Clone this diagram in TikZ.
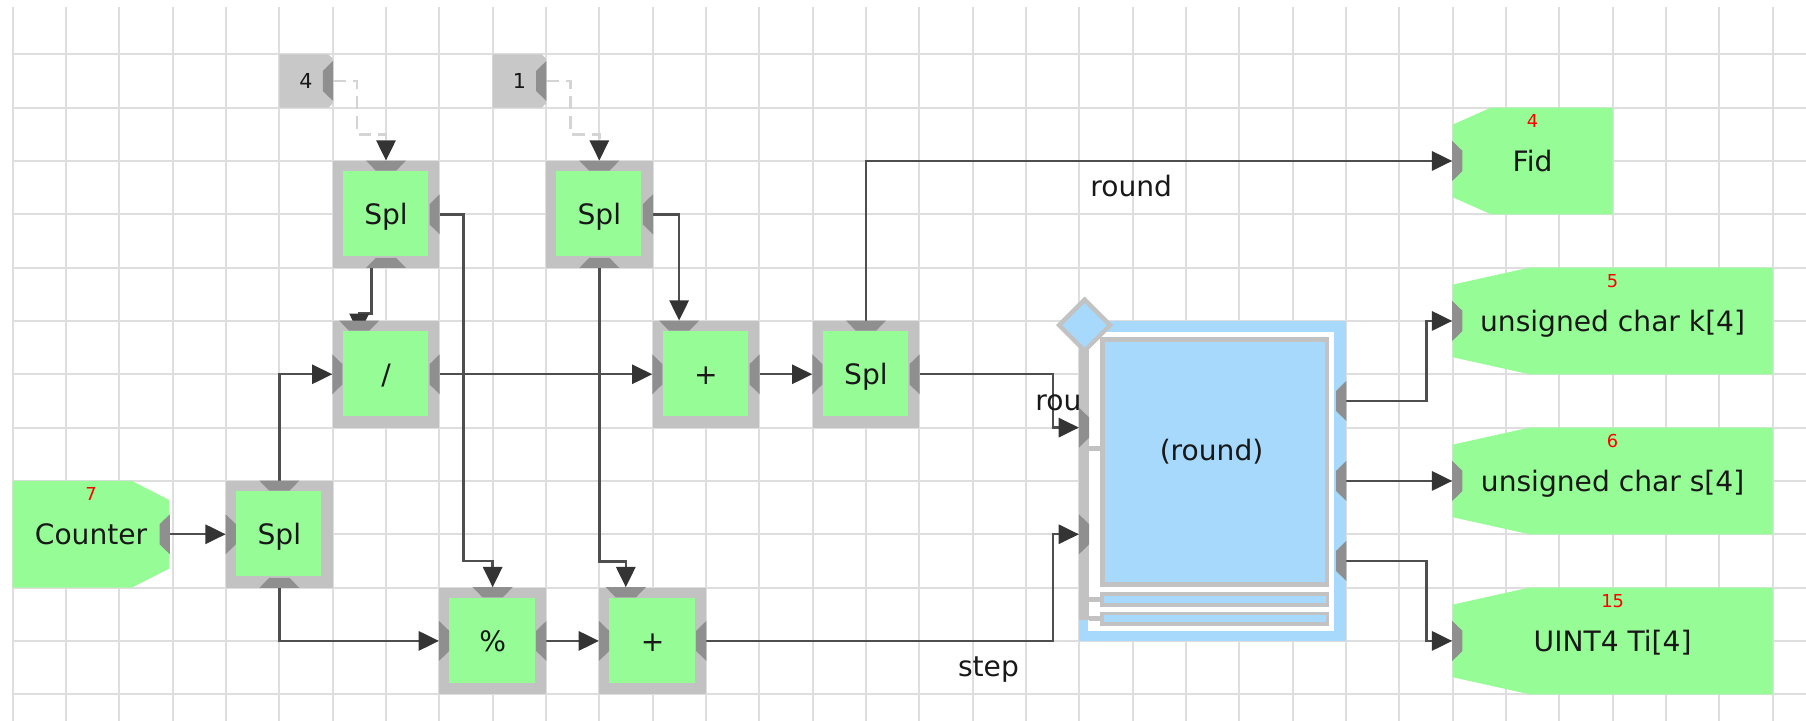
\documentclass[tikz,border=0pt]{standalone}
\usepackage{fontspec}
\setmainfont{DejaVu Sans}
\usetikzlibrary{arrows.meta,calc}
\pgfdeclarelayer{bg}
\pgfsetlayers{bg,main}
\definecolor{blkgreen}{RGB}{150,252,150}
\definecolor{framegrey}{RGB}{194,194,194}
\definecolor{cstgrey}{RGB}{200,200,200}
\definecolor{portgrey}{RGB}{143,143,143}
\definecolor{rndblue}{RGB}{166,217,251}
\definecolor{gridc}{RGB}{222,222,222}
\definecolor{wirec}{RGB}{78,78,78}
\definecolor{tipc}{RGB}{52,52,52}
\definecolor{cwirec}{RGB}{212,212,212}
\definecolor{txtc}{RGB}{24,24,24}
\newcommand{\blkfont}{\fontsize{15pt}{18pt}\selectfont}
\newcommand{\idnfont}{\fontsize{9.5pt}{11pt}\selectfont}
\newcommand{\cstfnt}{\fontsize{11pt}{13pt}\selectfont}
\newcommand{\portmark}[2]{\fill[portgrey,shift={(#1)},rotate=#2] (0,-0.375) -- (0.19,-0.19) -- (0.19,0.19) -- (0,0.375) -- cycle;}

\begin{document}
\begin{tikzpicture}[x=1cm,y=-1cm]
\tikzstyle{blk} = [rectangle, minimum width=2cm, minimum height=2cm, inner sep=0pt, fill=framegrey, font=\blkfont, text=txtc, text height=10.9pt, text depth=0pt,
  path picture={\fill[blkgreen] ([xshift=0.19cm,yshift=-0.19cm]path picture bounding box.north west) rectangle ([xshift=-0.21cm,yshift=0.21cm]path picture bounding box.south east);}]
\tikzstyle{cst} = [rectangle, minimum width=1cm, minimum height=1cm, inner sep=0pt, font=\cstfnt, text=txtc,
  path picture={\fill[cstgrey] (path picture bounding box.north west) -- ([xshift=-0.08cm]path picture bounding box.north east) -- ([yshift=-0.08cm]path picture bounding box.north east) -- ([yshift=0.08cm]path picture bounding box.south east) -- ([xshift=-0.08cm]path picture bounding box.south east) -- (path picture bounding box.south west) -- cycle;}]
\tikzstyle{innode} = [rectangle, minimum width=2.94cm, minimum height=2cm, inner sep=0pt, font=\blkfont, text=txtc, text height=10.9pt, text depth=0pt,
  path picture={\fill[blkgreen] (path picture bounding box.north west) -- ($(path picture bounding box.north east)!0.24!(path picture bounding box.north west)$) -- ([yshift=-0.36cm]path picture bounding box.north east) -- ([yshift=0.36cm]path picture bounding box.south east) -- ($(path picture bounding box.south east)!0.24!(path picture bounding box.south west)$) -- (path picture bounding box.south west) -- cycle;}]
\tikzstyle{outnode} = [rectangle, minimum height=2cm, inner sep=0pt, font=\blkfont, text=txtc, text height=10.9pt, text depth=0pt,
  path picture={\fill[blkgreen] ($(path picture bounding box.north west)!0.24!(path picture bounding box.north east)$) -- (path picture bounding box.north east) -- (path picture bounding box.south east) -- ($(path picture bounding box.south west)!0.24!(path picture bounding box.south east)$) -- ([yshift=0.32cm]path picture bounding box.south west) -- ([yshift=-0.32cm]path picture bounding box.north west) -- cycle;}]
\tikzstyle{idnum} = [inner sep=0pt, font=\idnfont, text=red, text height=6.9pt, text depth=0pt]
\tikzstyle{rndbox} = [rectangle, minimum width=5cm, minimum height=6cm, inner sep=0pt, fill=rndblue]
\tikzstyle{wlbl} = [inner sep=0pt, font=\blkfont, text=txtc, anchor=base west]
\tikzstyle{wire} = [draw=wirec, line width=1.3pt, -{Triangle[length=0.38cm,width=0.36cm,color=tipc]}]
\tikzstyle{cwire} = [draw=cwirec, line width=1.3pt, dash pattern=on 0.24cm off 0.13cm, -{Triangle[length=0.38cm,width=0.36cm,color=tipc]}]

\useasboundingbox (-0.238,-1.018) rectangle (33.627,12.501);

\node (c4) [cst] at (5.5,0.5) {4};
\node (c1) [cst] at (9.5,0.5) {1};
\node (spl1) [blk] at (7,3) {Spl};
\node (spl2) [blk] at (11,3) {Spl};
\node (div) [blk] at (7,6) {/};
\node (add1) [blk] at (13,6) {+};
\node (spl3) [blk] at (16,6) {Spl};
\node (cnt) [innode] at (1.47,9) {Counter};
\node (spl4) [blk] at (5,9) {Spl};
\node (mod) [blk] at (9,11) {\%};
\node (add2) [blk] at (12,11) {+};

\node (fid) [outnode, minimum width=3cm] at (28.5,2) {Fid};
\node (kk) [outnode, minimum width=6cm] at (30,5) {unsigned char k[4]};
\node (ss) [outnode, minimum width=6cm] at (30,8) {unsigned char s[4]};
\node (ti) [outnode, minimum width=6cm] at (30,11) {UINT4 Ti[4]};
\node (cntid) [idnum] at ([yshift=-0.26cm]cnt.north) {7};
\node (fidid) [idnum] at ([yshift=-0.26cm]fid.north) {4};
\node (kkid) [idnum] at ([yshift=-0.26cm]kk.north) {5};
\node (ssid) [idnum] at ([yshift=-0.26cm]ss.north) {6};
\node (tiid) [idnum] at ([yshift=-0.26cm]ti.north) {15};

\coordinate (divt) at ($(div.north west)!0.25!(div.north east)$);
\coordinate (add1t) at ($(add1.north west)!0.25!(add1.north east)$);
\coordinate (add2t) at ($(add2.north west)!0.25!(add2.north east)$);

\portmark{c4.east}{180}
\portmark{c1.east}{180}
\portmark{spl1.north}{-90}
\portmark{spl1.south}{90}
\portmark{spl1.east}{180}
\portmark{spl2.north}{-90}
\portmark{spl2.south}{90}
\portmark{spl2.east}{180}
\portmark{divt}{-90}
\portmark{div.west}{0}
\portmark{div.east}{180}
\portmark{add1t}{-90}
\portmark{add1.west}{0}
\portmark{add1.east}{180}
\portmark{spl3.north}{-90}
\portmark{spl3.west}{0}
\portmark{spl3.east}{180}
\portmark{cnt.east}{180}
\portmark{spl4.north}{-90}
\portmark{spl4.south}{90}
\portmark{spl4.west}{0}
\portmark{mod.north}{-90}
\portmark{mod.west}{0}
\portmark{mod.east}{180}
\portmark{add2t}{-90}
\portmark{add2.west}{0}
\portmark{add2.east}{180}
\portmark{fid.west}{0}
\portmark{kk.west}{0}
\portmark{ss.west}{0}
\portmark{ti.west}{0}

\node (rnd) [rndbox] at (22.5,8) {};
\fill[white] (20.17,5.2) rectangle (24.78,10.81);
\fill[framegrey] (20,5.54) rectangle (20.18,10.61);
\draw[framegrey, line width=0.09cm] (20.18,7.39) -- (20.44,7.39);
\draw[framegrey, line width=0.09cm] (20.18,10.23) -- (20.44,10.23);
\draw[framegrey, line width=0.09cm] (20.18,10.58) -- (20.44,10.58);
\draw[framegrey, fill=rndblue, line width=0.09cm] (20.435,5.345) rectangle (24.645,9.945);
\draw[framegrey, fill=rndblue, line width=0.07cm] (20.425,10.125) rectangle (24.655,10.325);
\draw[framegrey, fill=rndblue, line width=0.07cm] (20.425,10.485) rectangle (24.655,10.685);
\draw[framegrey, fill=rndblue, line width=0.08cm] (20.1,4.6) -- (20.58,5.08) -- (20.1,5.56) -- (19.62,5.08) -- cycle;
\node (rndlbl) [font=\blkfont, text=txtc] at (22.48,7.45) {(round)};
\portmark{[yshift=1cm]rnd.west}{0}
\portmark{[yshift=-1cm]rnd.west}{0}
\portmark{[yshift=1.5cm]rnd.east}{180}
\portmark{rnd.east}{180}
\portmark{[yshift=-1.5cm]rnd.east}{180}

\begin{pgfonlayer}{bg}
\fill[white] (-0.238,-1.018) rectangle (33.627,12.501);
\draw[gridc, line width=1pt] (0,-0.89) grid (33.627,12.501);

\draw[cwire] (c4.east) -- ++(0.45,0) -- ++(0,1) -| (spl1.north);
\draw[cwire] (c1.east) -- ++(0.45,0) -- ++(0,1) -| (spl2.north);

\draw[wire] ([xshift=-0.27cm]spl1.south) -- ++(0,0.85) -| ([yshift=-0.25cm]divt);
\draw[wire] (spl1.east) -- ++(0.45,0) -- ++(0,6.5) -| (mod.north);
\draw[wire] (spl2.east) -| (add1t);
\draw[wire] (spl2.south) -- ++(0,5.5) -| (add2t);
\draw[wire] (cnt.east) -- (spl4.west);
\draw[wire] (spl4.north) |- (div.west);
\draw[wire] (spl4.south) |- (mod.west);
\draw[wire] (div.east) -- (add1.west);
\draw[wire] (mod.east) -- (add2.west);
\draw[wire] (add1.east) -- (spl3.west);
\draw[wire] (spl3.north) |- (fid.west);
\draw[wire] (spl3.east) -- ++(2.5,0) |- ([yshift=1cm]rnd.west);
\draw[wire] (add2.east) -- ++(6.5,0) |- ([yshift=-1cm]rnd.west);
\draw[wire] ([yshift=1.5cm]rnd.east) -- ++(1.5,0) |- (kk.west);
\draw[wire] (rnd.east) -- (ss.west);
\draw[wire] ([yshift=-1.5cm]rnd.east) -- ++(1.5,0) |- (ti.west);

\node (lblfid) [wlbl] at (20.2,2.67) {round};
\node (lblrnd) [wlbl] at (19.17,6.67) {round};
\node (lblstep) [wlbl] at (17.72,11.66) {step};
\end{pgfonlayer}
\end{tikzpicture}
\end{document}
